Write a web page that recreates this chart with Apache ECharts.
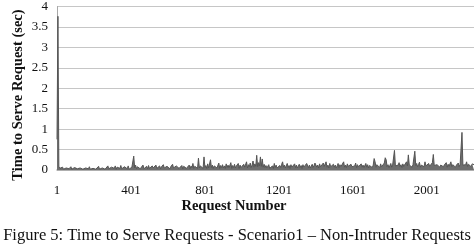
<!DOCTYPE html>
<html>
<head>
<meta charset="utf-8">
<script src="https://cdn.jsdelivr.net/npm/echarts@6/dist/echarts.min.js"></script>
<style>
  html, body { margin: 0; padding: 0; background: #fff; }
  #chart { width: 474px; height: 249px; }
</style>
</head>
<body>
<div id="chart"></div>
<script>
// time to serve (sec), one reading every 5th request, starting at request 1
const serveTimes = [
  0.75,3.76,0.09,0.04,0.08,0.03,0.07,0.02,0.06,0.03,0.05,0.02,0.07,0.03,0.04,0.08,0.02,0.05,0.03,0.06,
  0.02,0.04,0.03,0.07,0.02,0.05,0.03,0.04,0.02,0.06,0.03,0.05,0.02,0.04,0.03,0.08,0.02,0.05,0.03,0.04,
  0.03,0.06,0.02,0.05,0.03,0.09,0.02,0.06,0.03,0.05,0.04,0.08,0.02,0.06,0.03,0.1,0.03,0.05,0.02,0.07,
  0.03,0.06,0.04,0.1,0.02,0.07,0.03,0.05,0.04,0.11,0.03,0.06,0.02,0.08,0.04,0.05,0.03,0.1,0.02,0.06,
  0.04,0.07,0.03,0.34,0.05,0.12,0.03,0.08,0.04,0.1,0.03,0.06,0.05,0.12,0.03,0.07,0.04,0.09,0.03,0.11,
  0.04,0.08,0.03,0.1,0.05,0.07,0.03,0.12,0.04,0.06,0.05,0.1,0.03,0.08,0.04,0.13,0.05,0.07,0.03,0.09,
  0.05,0.11,0.03,0.08,0.04,0.14,0.05,0.07,0.03,0.1,0.06,0.12,0.04,0.08,0.05,0.11,0.03,0.09,0.05,0.13,
  0.04,0.08,0.06,0.12,0.03,0.1,0.05,0.16,0.04,0.09,0.06,0.12,0.04,0.29,0.05,0.1,0.06,0.14,0.04,0.32,
  0.06,0.11,0.04,0.15,0.05,0.09,0.25,0.06,0.12,0.04,0.1,0.06,0.14,0.05,0.09,0.17,0.04,0.11,0.06,0.13,
  0.05,0.1,0.04,0.15,0.06,0.12,0.05,0.09,0.18,0.04,0.11,0.06,0.14,0.05,0.1,0.07,0.16,0.04,0.12,0.06,
  0.1,0.05,0.14,0.07,0.11,0.2,0.05,0.13,0.08,0.17,0.06,0.12,0.22,0.07,0.15,0.09,0.36,0.08,0.18,0.1,
  0.32,0.09,0.27,0.07,0.14,0.06,0.11,0.05,0.09,0.13,0.04,0.08,0.05,0.1,0.04,0.16,0.06,0.12,0.05,0.09,
  0.04,0.11,0.06,0.14,0.2,0.07,0.12,0.05,0.09,0.16,0.06,0.11,0.04,0.13,0.07,0.1,0.05,0.15,0.06,0.12,
  0.05,0.09,0.14,0.06,0.11,0.04,0.13,0.07,0.1,0.05,0.16,0.2,0.06,0.12,0.05,0.09,0.14,0.06,0.11,0.17,
  0.2,0.07,0.12,0.05,0.15,0.08,0.11,0.06,0.17,0.09,0.13,0.2,0.07,0.12,0.05,0.16,0.08,0.11,0.06,0.14,
  0.07,0.12,0.05,0.1,0.16,0.06,0.13,0.08,0.11,0.05,0.2,0.07,0.12,0.06,0.15,0.09,0.11,0.06,0.14,0.08,
  0.12,0.05,0.1,0.17,0.06,0.13,0.08,0.11,0.05,0.15,0.07,0.12,0.06,0.1,0.16,0.07,0.13,0.05,0.11,0.08,
  0.14,0.06,0.12,0.28,0.2,0.07,0.13,0.09,0.11,0.06,0.15,0.08,0.12,0.06,0.17,0.3,0.25,0.08,0.13,0.06,
  0.11,0.16,0.07,0.12,0.09,0.48,0.1,0.14,0.07,0.12,0.18,0.08,0.13,0.06,0.15,0.09,0.12,0.07,0.2,0.1,
  0.37,0.12,0.08,0.15,0.07,0.13,0.1,0.46,0.11,0.16,0.08,0.13,0.19,0.07,0.12,0.09,0.15,0.08,0.2,0.1,
  0.13,0.07,0.16,0.09,0.12,0.08,0.18,0.38,0.11,0.15,0.08,0.13,0.1,0.17,0.07,0.12,0.09,0.15,0.08,0.13,
  0.1,0.18,0.07,0.14,0.09,0.12,0.2,0.08,0.13,0.1,0.16,0.07,0.12,0.09,0.17,0.08,0.14,0.11,0.92,0.12,
  0.16,0.08,0.13,0.2,0.09,0.14,0.1,0.18,0.08,0.15,0.11,0.13
];
// request numbers for each reading (1, 6, 11, ...)
const requestNumbers = serveTimes.map((v, i) => String(1 + i * 5));
const yTicks = [0, 0.5, 1, 1.5, 2, 2.5, 3, 3.5, 4];

const serif = '"Liberation Serif", "Times New Roman", serif';
const chart = echarts.init(document.getElementById('chart'));

chart.setOption({
  animation: false,
  grid: { left: 57, right: 0, top: 5, bottom: 79 },
  xAxis: {
    type: 'category',
    boundaryGap: false,
    data: requestNumbers,
    axisLine: { lineStyle: { color: '#a8a8a8', width: 1.5 } },
    axisTick: { show: false },
    axisLabel: { interval: 79, color: '#111', fontFamily: serif, fontSize: 13, margin: 14 }
  },
  yAxis: {
    type: 'value',
    min: yTicks[0],
    max: yTicks[yTicks.length - 1],
    interval: 0.5,
    axisLine: { show: true, lineStyle: { color: '#a8a8a8' } },
    axisTick: { show: false },
    splitLine: { lineStyle: { color: '#c6c6c6' } },
    axisLabel: { color: '#111', fontFamily: serif, fontSize: 13, margin: 9 }
  },
  graphic: [
    {
      type: 'text', x: 18, y: 95, rotation: Math.PI / 2,
      style: {
        text: 'Time to Serve Request (sec)', fill: '#111',
        font: 'bold 14.5px ' + serif, textAlign: 'center', textVerticalAlign: 'middle'
      }
    },
    {
      type: 'text', x: 234, y: 206,
      style: {
        text: 'Request Number', fill: '#111',
        font: 'bold 14.5px ' + serif, textAlign: 'center', textVerticalAlign: 'middle'
      }
    },
    {
      type: 'text', x: 237, y: 236,
      style: {
        text: 'Figure 5: Time to Serve Requests - Scenario1 \u2013 Non-Intruder Requests', fill: '#111',
        font: '16.5px ' + serif, textAlign: 'center', textVerticalAlign: 'middle'
      }
    }
  ],
  series: [
    {
      type: 'line',
      data: serveTimes,
      symbol: 'none',
      lineStyle: { color: '#555', width: 1 },
      areaStyle: { color: '#6e6e6e', opacity: 1 }
    }
  ]
});
</script>
</body>
</html>
